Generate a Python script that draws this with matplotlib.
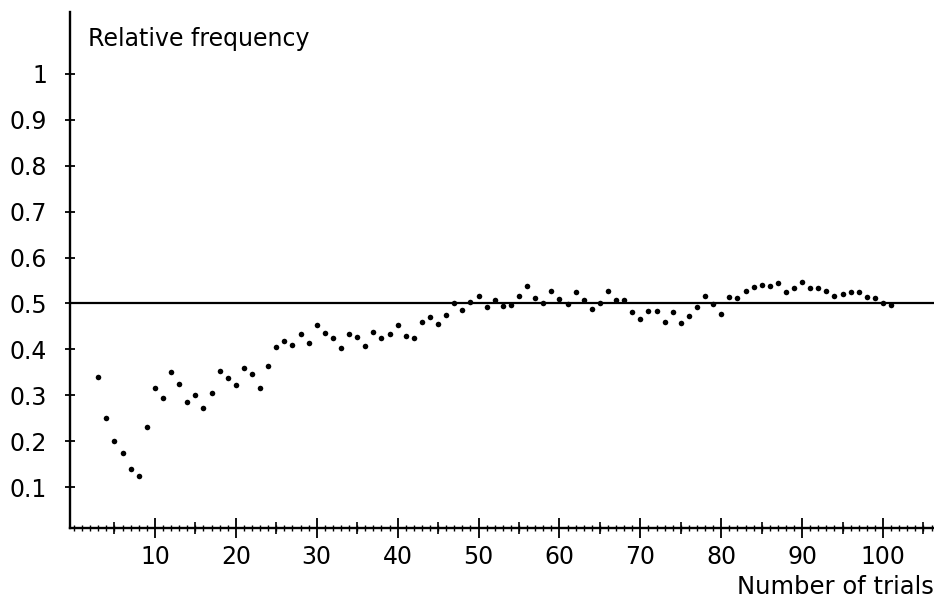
import matplotlib
matplotlib.use("Agg")
import matplotlib.pyplot as plt
import numpy as np
from matplotlib.ticker import MultipleLocator, FixedLocator

# relative frequency of the event after n trials
trials = list(range(3, 102))
rel_freq = [
    0.340, 0.250, 0.200, 0.175, 0.140, 0.125, 0.230, 0.315, 0.295, 0.350,   # 3-12
    0.325, 0.285, 0.300, 0.272, 0.305, 0.353, 0.338, 0.322, 0.360, 0.346,   # 13-22
    0.316, 0.363, 0.404, 0.418, 0.410, 0.433, 0.413, 0.452, 0.435, 0.424,   # 23-32
    0.402, 0.433, 0.427, 0.407, 0.437, 0.424, 0.433, 0.454, 0.430, 0.424,   # 33-42
    0.460, 0.471, 0.455, 0.474, 0.500, 0.485, 0.503, 0.516, 0.492, 0.508,   # 43-52
    0.495, 0.497, 0.516, 0.539, 0.511, 0.502, 0.528, 0.510, 0.498, 0.526,   # 53-62
    0.508, 0.488, 0.502, 0.528, 0.508, 0.508, 0.481, 0.467, 0.483, 0.483,   # 63-72
    0.459, 0.481, 0.458, 0.473, 0.493, 0.517, 0.498, 0.478, 0.515, 0.512,   # 73-82
    0.528, 0.536, 0.541, 0.537, 0.544, 0.526, 0.533, 0.546, 0.534, 0.533,   # 83-92
    0.528, 0.516, 0.521, 0.526, 0.526, 0.513, 0.512, 0.501, 0.496,          # 93-101
]
p_true = 0.5
y_ticks = [0.1, 0.2, 0.3, 0.4, 0.5, 0.6, 0.7, 0.8, 0.9, 1.0]
y_labels = ["0.1", "0.2", "0.3", "0.4", "0.5", "0.6", "0.7", "0.8", "0.9", "1"]
x_ticks = [10, 20, 30, 40, 50, 60, 70, 80, 90, 100]
x_mid_ticks = [5, 15, 25, 35, 45, 55, 65, 75, 85, 95, 105]

W, H = 934, 599
fig = plt.figure(figsize=(W / 100, H / 100), dpi=100)
ax = fig.add_axes([70 / W, (H - 528) / H, (W - 70) / W, (528 - 12) / H])

ax.plot(trials, rel_freq, "o", color="black", ms=4, mew=0)
ax.axhline(p_true, color="black", lw=1.6)

ax.set_xlim(-0.5, 106.3)
ax.set_ylim(0.0107, 1.135)

for s in ["top", "right"]:
    ax.spines[s].set_visible(False)
for s in ["left", "bottom"]:
    ax.spines[s].set_linewidth(1.7)

ax.set_yticks(y_ticks)
ax.set_yticklabels(y_labels)
ax.set_xticks(x_ticks)
ax.xaxis.set_minor_locator(MultipleLocator(1))
ax.yaxis.set_minor_locator(FixedLocator([]))
ax.tick_params(axis="x", which="major", direction="inout", length=15, width=1.3,
               labelsize=17, pad=5)
ax.tick_params(axis="x", which="minor", direction="inout", length=4, width=1)
ax.tick_params(axis="y", which="major", direction="inout", length=7, width=1.3,
               labelsize=17, pad=13)

# medium ticks every 5 trials
sec = ax.secondary_xaxis("bottom")
sec.set_xticks(x_mid_ticks)
sec.set_xticklabels([])
sec.spines["bottom"].set_visible(False)
sec.tick_params(direction="inout", length=8, width=1.2)

ax.set_xlabel("Number of trials", fontsize=17.5, loc="right", labelpad=4)
fig.text(88 / W, 1 - 39 / H, "Relative frequency", fontsize=17, va="center", ha="left")

fig.savefig("out.png", dpi=100)
